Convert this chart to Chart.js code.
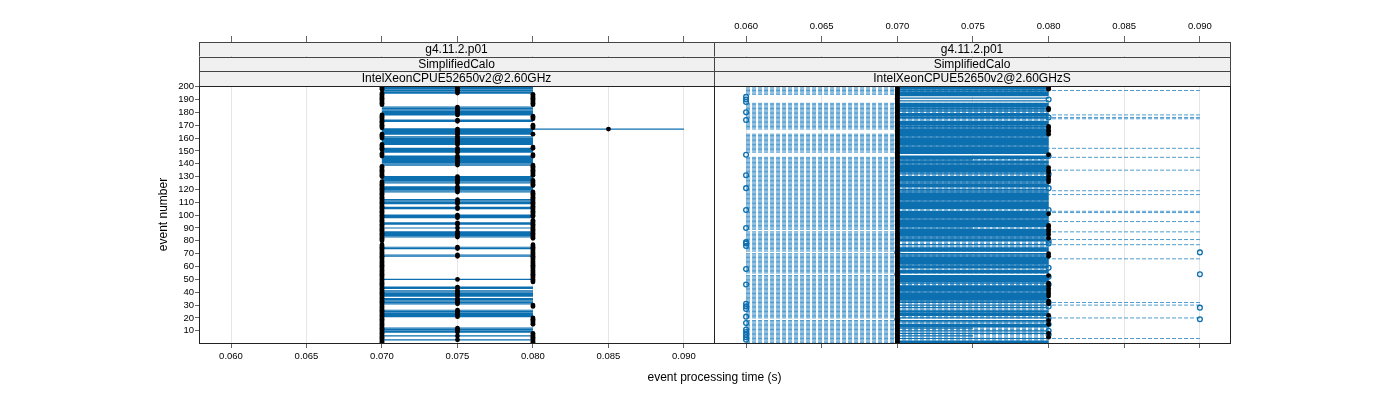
<!DOCTYPE html>
<html>
<head>
<meta charset="utf-8">
<script src="https://cdn.jsdelivr.net/npm/chart.js@4.4.1/dist/chart.umd.min.js"></script>
<style>
  body { margin: 0; background: #fff; width: 1400px; height: 400px; overflow: hidden; position: relative; font-family: "Liberation Sans", Arial, sans-serif; }
  canvas { position: absolute; left: 0; top: 0; }
  #xtitle { position: absolute; left: 0; width: 1429px; top: 370px; text-align: center; font-size: 12px; color: #000; }
</style>
</head>
<body>
<canvas id="leftPanel" width="1400" height="400"></canvas>
<canvas id="rightPanel" width="1400" height="400"></canvas>
<div id="xtitle">event processing time (s)</div>
<script>
// axis ticks
const timeTicks = [0.060, 0.065, 0.070, 0.075, 0.080, 0.085, 0.090]
const eventTicks = [10, 20, 30, 40, 50, 60, 70, 80, 90, 100, 110, 120, 130, 140, 150, 160, 170, 180, 190, 200]
const eventCount = 200

// strip labels
const leftStrips = ['g4.11.2.p01', 'SimplifiedCalo', 'IntelXeonCPUE52650v2@2.60GHz']
const rightStrips = ['g4.11.2.p01', 'SimplifiedCalo', 'IntelXeonCPUE52650v2@2.60GHzS']

// left panel: events whose times span 0.070 .. 0.080 (runs of event numbers)
const leftBandRuns = [[195,200],[178,184],[173,174],[163,167],[155,161],[149,152],[139,146],[125,130],[118,122],[109,112],[105,106],[98,100],[93,94],[90,90],[83,87],[74,75],[68,69],[50,50],[43,44],[37,41],[31,35],[21,26],[10,12],[9,9],[6,6],[3,3]]
const leftDot070Runs = [[198,200],[186,195],[168,178],[160,163],[151,155],[146,148],[130,138],[80,126],[1,77]]
const leftDot080Runs = [[186,194],[175,177],[168,170],[163,163],[152,153],[146,147],[131,139],[123,127],[99,118],[82,96],[48,77],[29,30],[15,20],[1,8]]
const leftLongEvents = [167]      // spans 0.070 .. 0.090
const leftDot085 = [167]

// right panel
const rightSolidGap = [192,190,188,180,174,147,131,121,104,79,78,76,71,58,54,46,31,29,27,21,19,16,11,9,7,5,3]
const rightShortSolid = [143,90,12,6]   // 0.070 .. 0.075 only
const rightDashGap = [193,192,191,190,189,188,166,165,164,148,147,146,88,71,54,19]
const rightDashLong = [197,178,176,175,152,145,135,119,116,103,102,95,87,81,77,66,32,30,20,4]
const rightCircle060 = [192,190,188,180,174,147,131,121,104,90,79,78,76,58,46,31,29,27,21,16,11,9,7,5,3]
const rightCircle070 = [71,54,19]
const rightCircle080 = [190,176,146,132,121,104,80,78,59,52,46,32,29,20,15,10,7]
const rightCircle090 = [71,54,28,19]
const rightDot070Gap = [88]
const rightDot080 = [199,198,183,182,169,168,166,165,163,147,137,135,133,130,128,126,101,92,91,89,87,85,82,70,68,53,47,45,43,41,39,37,33,31,22,18,15,8,5]

const blue = '#0b6fb0'
const dashBlue = '#3b90ca'
const xMin = 0.05788, xMax = 0.09199

Chart.defaults.font.family = '"Liberation Sans", Arial, sans-serif'
Chart.defaults.color = '#000'

function expand(runs) {
  const out = []
  runs.forEach(([a, b]) => { for (let e = a; e <= b; e++) out.push(e) })
  return out
}

function allEventsExcept(gaps) {
  const out = []
  for (let e = 1; e <= eventCount; e++) if (!gaps.includes(e)) out.push(e)
  return out
}

function segs(events, x0, x1) {
  const pts = []
  events.forEach(e => { pts.push({x: x0, y: e}, {x: x1, y: e}, {x: null, y: null}) })
  return pts
}

function pts(events, x) {
  return events.map(e => ({x: x, y: e}))
}

function lineSet(data, dashed, order) {
  return {data, showLine: true, pointRadius: 0, borderColor: dashed ? dashBlue : blue, borderWidth: dashed ? 0.9 : 1.2,
          borderDash: dashed ? [4, 2] : [], spanGaps: false, order}
}

function dotSet(data) {
  return {data, showLine: false, pointRadius: 2.4, pointBackgroundColor: '#000', pointBorderWidth: 0, order: 0}
}

function circleSet(data) {
  return {data, showLine: false, pointRadius: 2.4, pointBackgroundColor: 'rgba(0,0,0,0)',
          pointBorderColor: blue, pointBorderWidth: 1.3, order: 0}
}

const stripPlugin = {
  id: 'strips',
  afterDraw(chart, args, o) {
    const {ctx, chartArea: a} = chart
    const edges = [42, 56.5, 71, 86]
    ctx.save()
    ctx.font = '12px "Liberation Sans", Arial, sans-serif'
    ctx.textAlign = 'center'
    ctx.textBaseline = 'middle'
    o.labels.forEach((t, i) => {
      ctx.fillStyle = '#f0f0f0'
      ctx.fillRect(a.left, edges[i], a.right - a.left, edges[i + 1] - edges[i])
      ctx.strokeStyle = '#444'
      ctx.lineWidth = 1
      ctx.strokeRect(a.left + 0.5, Math.round(edges[i]) + 0.5, a.right - a.left, Math.round(edges[i + 1]) - Math.round(edges[i]))
      ctx.fillStyle = '#000'
      ctx.fillText(t, (a.left + a.right) / 2, (edges[i] + edges[i + 1]) / 2 + 0.5)
    })
    ctx.strokeStyle = '#222'
    ctx.strokeRect(a.left + 0.5, a.top + 0.5, a.right - a.left, a.bottom - a.top)
    ctx.restore()
  }
}

function makeChart(id, datasets, opts) {
  const tickFont = {size: 9.5}
  return new Chart(document.getElementById(id), {
    type: 'scatter',
    data: {datasets},
    options: {
      responsive: false,
      animation: false,
      devicePixelRatio: 1,
      layout: {padding: {left: opts.padLeft, right: opts.padRight, top: 0, bottom: 0}},
      plugins: {legend: {display: false}, tooltip: {enabled: false}, strips: {labels: opts.strips}},
      scales: {
        x: {
          type: 'linear', position: 'bottom', min: xMin, max: xMax,
          afterBuildTicks: s => { s.ticks = timeTicks.map(v => ({value: v})) },
          afterFit: s => { s.height = 57 },
          grid: {color: '#e6e6e6', tickColor: '#666', tickLength: 5},
          border: {display: false},
          ticks: {color: opts.bottomLabels ? '#000' : 'rgba(0,0,0,0)', padding: 3, font: tickFont,
                  maxRotation: 0, autoSkip: false, callback: v => v.toFixed(3)}
        },
        x2: {
          type: 'linear', position: 'top', min: xMin, max: xMax,
          afterBuildTicks: s => { s.ticks = timeTicks.map(v => ({value: v})) },
          afterFit: s => { s.height = 86 },
          grid: {drawOnChartArea: false, tickColor: '#666', tickLength: 50},
          border: {display: false},
          ticks: {color: opts.topLabels ? '#000' : 'rgba(0,0,0,0)', padding: 4, font: tickFont,
                  maxRotation: 0, autoSkip: false, callback: v => v.toFixed(3)}
        },
        y: {
          type: 'linear', position: 'left', display: opts.yAxis, min: 0.5, max: 200.5,
          afterBuildTicks: s => { s.ticks = eventTicks.map(v => ({value: v})) },
          afterFit: s => { s.width = opts.yAxis ? 43 : 0 },
          grid: {drawOnChartArea: false, tickColor: '#666', tickLength: 4},
          border: {display: false},
          ticks: {padding: 1, font: tickFont, color: '#000', autoSkip: false, callback: v => String(v)},
          title: {display: true, text: 'event number', padding: 0, font: {size: 12}, color: '#000'}
        }
      }
    },
    plugins: [stripPlugin]
  })
}

// left panel
const leftBand = expand(leftBandRuns)
makeChart('leftPanel', [
  dotSet(pts(expand(leftDot070Runs), 0.070)),
  dotSet(pts(leftBand, 0.075)),
  dotSet(pts(expand(leftDot080Runs), 0.080)),
  dotSet(pts(leftDot085, 0.085)),
  lineSet(segs(leftBand, 0.070, 0.080), false, 1),
  lineSet(segs(leftLongEvents, 0.070, 0.090), false, 1)
], {padLeft: 156, padRight: 686, strips: leftStrips, yAxis: true, bottomLabels: true, topLabels: false})

// right panel
const dashEvents = allEventsExcept(rightDashGap)
const solidEvents = allEventsExcept(rightSolidGap.concat(rightShortSolid))
makeChart('rightPanel', [
  dotSet(pts(allEventsExcept(rightDot070Gap), 0.070)),
  dotSet(pts(rightDot080, 0.080)),
  circleSet(pts(rightCircle060, 0.060)),
  circleSet(pts(rightCircle070, 0.070)),
  circleSet(pts(rightCircle080, 0.080)),
  circleSet(pts(rightCircle090, 0.090)),
  lineSet(segs(solidEvents, 0.070, 0.080), false, 1),
  lineSet(segs(rightShortSolid, 0.070, 0.075), false, 1),
  lineSet(segs(dashEvents.filter(e => !rightDashLong.includes(e)), 0.060, 0.080), true, 2),
  lineSet(segs(dashEvents.filter(e => rightDashLong.includes(e)), 0.060, 0.090), true, 2)
], {padLeft: 714, padRight: 170, strips: rightStrips, yAxis: false, bottomLabels: false, topLabels: true})
</script>
</body>
</html>
